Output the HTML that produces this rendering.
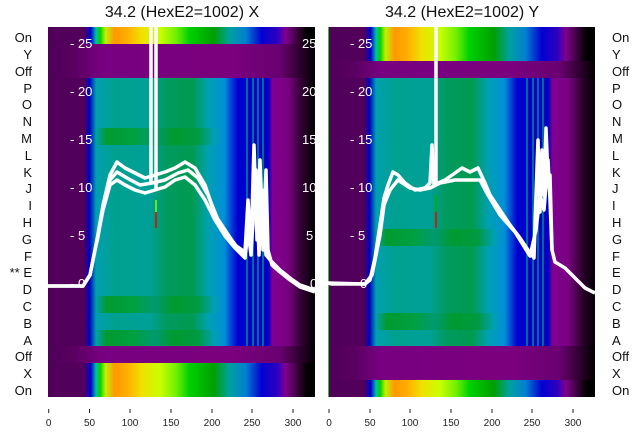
<!DOCTYPE html>
<html><head><meta charset="utf-8"><style>
body{margin:0;background:#fff;width:640px;height:440px;overflow:hidden}
svg text{font-family:"Liberation Sans","DejaVu Sans",sans-serif}
</style></head><body>
<svg width="640" height="440" viewBox="0 0 640 440" xmlns="http://www.w3.org/2000/svg">
<defs>
<linearGradient id="main" x1="0" x2="1" y1="0" y2="0">
<stop offset="0" stop-color="#50005a"/><stop offset="0.135" stop-color="#52005c"/>
<stop offset="0.155" stop-color="#0000c0"/><stop offset="0.18" stop-color="#00a0b0"/>
<stop offset="0.25" stop-color="#00a090"/><stop offset="0.38" stop-color="#00a098"/>
<stop offset="0.44" stop-color="#009a60"/><stop offset="0.54" stop-color="#009a50"/>
<stop offset="0.6" stop-color="#00a0b0"/><stop offset="0.66" stop-color="#0090d8"/>
<stop offset="0.71" stop-color="#0000d0"/><stop offset="0.825" stop-color="#0000c8"/>
<stop offset="0.84" stop-color="#800090"/><stop offset="0.9" stop-color="#780080"/>
<stop offset="0.95" stop-color="#300030"/><stop offset="1" stop-color="#000"/>
</linearGradient>
<linearGradient id="green" x1="0" x2="1" y1="0" y2="0">
<stop offset="0" stop-color="#50005a"/><stop offset="0.135" stop-color="#52005c"/>
<stop offset="0.155" stop-color="#0000c0"/><stop offset="0.18" stop-color="#00a0a8"/>
<stop offset="0.22" stop-color="#009a30"/><stop offset="0.32" stop-color="#00a040"/>
<stop offset="0.4" stop-color="#009a70"/><stop offset="0.47" stop-color="#009a30"/>
<stop offset="0.56" stop-color="#009a40"/>
<stop offset="0.62" stop-color="#00a0b0"/><stop offset="0.66" stop-color="#0090d8"/>
<stop offset="0.71" stop-color="#0000d0"/><stop offset="0.825" stop-color="#0000c8"/>
<stop offset="0.84" stop-color="#800090"/><stop offset="0.9" stop-color="#780080"/>
<stop offset="0.95" stop-color="#300030"/><stop offset="1" stop-color="#000"/>
</linearGradient>
<linearGradient id="on" x1="0" x2="1" y1="0" y2="0">
<stop offset="0" stop-color="#50005a"/><stop offset="0.135" stop-color="#52005c"/>
<stop offset="0.16" stop-color="#0000d0"/><stop offset="0.18" stop-color="#00c0a0"/>
<stop offset="0.195" stop-color="#00d000"/><stop offset="0.215" stop-color="#c0f000"/>
<stop offset="0.25" stop-color="#ff9800"/><stop offset="0.3" stop-color="#ffb000"/>
<stop offset="0.35" stop-color="#f0e000"/><stop offset="0.42" stop-color="#c8ff00"/>
<stop offset="0.48" stop-color="#70f000"/><stop offset="0.53" stop-color="#00d000"/>
<stop offset="0.62" stop-color="#00a000"/><stop offset="0.68" stop-color="#00a0a0"/>
<stop offset="0.74" stop-color="#0080d0"/><stop offset="0.8" stop-color="#0000d0"/>
<stop offset="0.86" stop-color="#3000c0"/><stop offset="0.89" stop-color="#800090"/>
<stop offset="0.94" stop-color="#300030"/><stop offset="0.97" stop-color="#000"/>
</linearGradient>
<linearGradient id="off" x1="0" x2="1" y1="0" y2="0">
<stop offset="0" stop-color="#4e0058"/><stop offset="0.1" stop-color="#5a0062"/>
<stop offset="0.2" stop-color="#780080"/><stop offset="0.7" stop-color="#7a007e"/>
<stop offset="0.87" stop-color="#680070"/><stop offset="0.94" stop-color="#300030"/>
<stop offset="1" stop-color="#000"/>
</linearGradient>
</defs>

<!-- LEFT PANEL -->
<g>
<rect x="48" y="27" width="267" height="370" fill="url(#main)"/>
<rect x="48" y="27" width="267" height="17" fill="url(#on)"/>
<rect x="48" y="44" width="267" height="34" fill="url(#off)"/>
<rect x="48" y="128" width="267" height="17" fill="url(#green)"/>
<rect x="48" y="296" width="267" height="17" fill="url(#green)"/>
<rect x="48" y="330" width="267" height="16" fill="url(#green)"/>
<rect x="48" y="346" width="267" height="17" fill="url(#off)"/>
<rect x="48" y="363" width="267" height="34" fill="url(#on)"/>
<g stroke="#00b070" stroke-width="1.2">
<line x1="247" y1="78" x2="247" y2="346"/><line x1="253" y1="78" x2="253" y2="346"/>
<line x1="258" y1="78" x2="258" y2="346"/><line x1="263" y1="78" x2="263" y2="346"/>
</g>
<g fill="#fff" font-size="13">
<text x="70" y="48">- 25</text><text x="70" y="96">- 20</text><text x="70" y="144">- 15</text>
<text x="70" y="192">- 10</text><text x="70" y="240">- 5</text><text x="70" y="288">- 0</text>
<text x="302" y="48">25</text><text x="302" y="96">20</text><text x="302" y="144">15</text>
<text x="302" y="192">10</text><text x="306" y="240">5</text><text x="310" y="288">0</text>
</g>
<line x1="156" y1="200" x2="156" y2="212" stroke="#8f0" stroke-width="1.5"/>
<line x1="156" y1="212" x2="156" y2="228" stroke="#e00" stroke-width="1.5"/>
<g fill="none" stroke="#fff" stroke-width="3.5" stroke-linejoin="round">
<line x1="151" y1="27" x2="151" y2="182"/><line x1="156" y1="27" x2="156" y2="190"/>
<polyline points="48,286 83,286 90,275 97,240 103,205 110,175 117,162 125,168 135,173 145,178 155,175 165,172 175,168 185,162 195,168 205,185 215,215 225,230 235,245 245,252 248,200 251,250 254,145 257,240 260,160 263,250 266,170 268,250 272,265 280,272 290,280 300,287 315,292"/>
<polyline points="48,286 83,286 90,275 97,240 103,210 110,185 117,180 125,185 135,190 145,193 155,190 165,187 175,180 185,177 195,185 205,200 215,220 225,236 235,248 245,258 248,230 251,255 256,170 259,255 262,190 266,255 272,262 280,270 290,278 300,285 315,290"/>
<polyline points="97,242 103,208 110,180 117,172 127,178 140,185 152,183 165,180 178,173 188,170 198,178 208,195 218,220 230,238 243,255"/>
</g>
<g fill="#222" font-size="10" text-anchor="middle">
<text x="48.7" y="426">0</text><text x="89.5" y="426">50</text><text x="130" y="426">100</text>
<text x="171" y="426">150</text><text x="212" y="426">200</text><text x="252" y="426">250</text><text x="293" y="426">300</text>
</g>
<g stroke="#222" stroke-width="1">
<line x1="48.7" y1="409" x2="48.7" y2="413"/><line x1="89.5" y1="409" x2="89.5" y2="413"/><line x1="130" y1="409" x2="130" y2="413"/>
<line x1="171" y1="409" x2="171" y2="413"/><line x1="212" y1="409" x2="212" y2="413"/><line x1="252" y1="409" x2="252" y2="413"/><line x1="293" y1="409" x2="293" y2="413"/>
</g>
<text x="182" y="17" font-size="16" text-anchor="middle" fill="#111">34.2 (HexE2=1002) X</text>
</g>

<!-- RIGHT PANEL -->
<g>
<rect x="328" y="27" width="267" height="370" fill="url(#main)"/>
<rect x="328" y="27" width="267" height="34" fill="url(#on)"/>
<rect x="328" y="61" width="267" height="17" fill="url(#off)"/>
<rect x="328" y="229" width="267" height="17" fill="url(#green)"/>
<rect x="328" y="313" width="267" height="17" fill="url(#green)"/>
<rect x="328" y="346" width="267" height="34" fill="url(#off)"/>
<rect x="328" y="380" width="267" height="17" fill="url(#on)"/>
<line x1="328.5" y1="27" x2="328.5" y2="397" stroke="#20d020" stroke-width="1"/>
<g stroke="#00b070" stroke-width="1.2">
<line x1="527" y1="78" x2="527" y2="346"/><line x1="533" y1="78" x2="533" y2="346"/>
<line x1="538" y1="78" x2="538" y2="346"/><line x1="543" y1="78" x2="543" y2="346"/>
</g>
<g fill="#fff" font-size="13">
<text x="350" y="48">- 25</text><text x="350" y="96">- 20</text><text x="350" y="144">- 15</text>
<text x="350" y="192">- 10</text><text x="350" y="240">- 5</text><text x="360" y="288">0</text>
</g>
<line x1="436" y1="195" x2="436" y2="212" stroke="#0a0" stroke-width="1.5"/>
<line x1="436" y1="212" x2="436" y2="228" stroke="#e00" stroke-width="1.5"/>
<g fill="none" stroke="#fff" stroke-width="3.5" stroke-linejoin="round">
<line x1="436" y1="27" x2="436" y2="185"/>
<polyline points="328,283 332,284 365,284 370,280 375,258 380,225 384,198 388,185 393,172 398,175 405,183 415,190 425,188 430,183 432,145 434,185 445,180 455,173 462,168 470,172 478,168 485,183 490,195 500,210 510,225 520,238 528,250 534,258 536,195 538,140 540,212 542,150 544,195 546,128 548,178 550,175 552,250 555,262 565,268 575,278 585,288 595,293"/>
<polyline points="328,283 365,284 372,275 380,235 384,205 390,190 398,180 410,188 420,190 430,188 440,183 455,180 470,180 480,180 488,195 500,215 515,232 530,256 536,230 540,195 544,210 548,160 550,200 552,250"/>
</g>
<g fill="#222" font-size="10" text-anchor="middle">
<text x="329" y="426">0</text><text x="370" y="426">50</text><text x="410" y="426">100</text>
<text x="451" y="426">150</text><text x="492" y="426">200</text><text x="532" y="426">250</text><text x="573" y="426">300</text>
</g>
<g stroke="#222" stroke-width="1">
<line x1="329" y1="409" x2="329" y2="413"/><line x1="370" y1="409" x2="370" y2="413"/><line x1="410" y1="409" x2="410" y2="413"/>
<line x1="451" y1="409" x2="451" y2="413"/><line x1="492" y1="409" x2="492" y2="413"/><line x1="532" y1="409" x2="532" y2="413"/><line x1="573" y1="409" x2="573" y2="413"/>
</g>
<text x="462" y="17" font-size="16" text-anchor="middle" fill="#111">34.2 (HexE2=1002) Y</text>
</g>

<!-- Row labels -->
<g font-size="13" fill="#111">
<g text-anchor="end">
<text x="32" y="42">On</text><text x="32" y="59">Y</text><text x="32" y="76">Off</text>
<text x="32" y="93">P</text><text x="32" y="109">O</text><text x="32" y="126">N</text>
<text x="32" y="143">M</text><text x="32" y="160">L</text><text x="32" y="177">K</text>
<text x="32" y="193">J</text><text x="32" y="210">I</text><text x="32" y="227">H</text>
<text x="32" y="244">G</text><text x="32" y="261">F</text><text x="32" y="277">** E</text>
<text x="32" y="294">D</text><text x="32" y="311">C</text><text x="32" y="328">B</text>
<text x="32" y="345">A</text><text x="32" y="361">Off</text><text x="32" y="378">X</text>
<text x="32" y="395">On</text>
</g>
<g>
<text x="612" y="42">On</text><text x="612" y="59">Y</text><text x="612" y="76">Off</text>
<text x="612" y="93">P</text><text x="612" y="109">O</text><text x="612" y="126">N</text>
<text x="612" y="143">M</text><text x="612" y="160">L</text><text x="612" y="177">K</text>
<text x="612" y="193">J</text><text x="612" y="210">I</text><text x="612" y="227">H</text>
<text x="612" y="244">G</text><text x="612" y="261">F</text><text x="612" y="277">E</text>
<text x="612" y="294">D</text><text x="612" y="311">C</text><text x="612" y="328">B</text>
<text x="612" y="345">A</text><text x="612" y="361">Off</text><text x="612" y="378">X</text>
<text x="612" y="395">On</text>
</g>
</g>
</svg>
</body></html>
